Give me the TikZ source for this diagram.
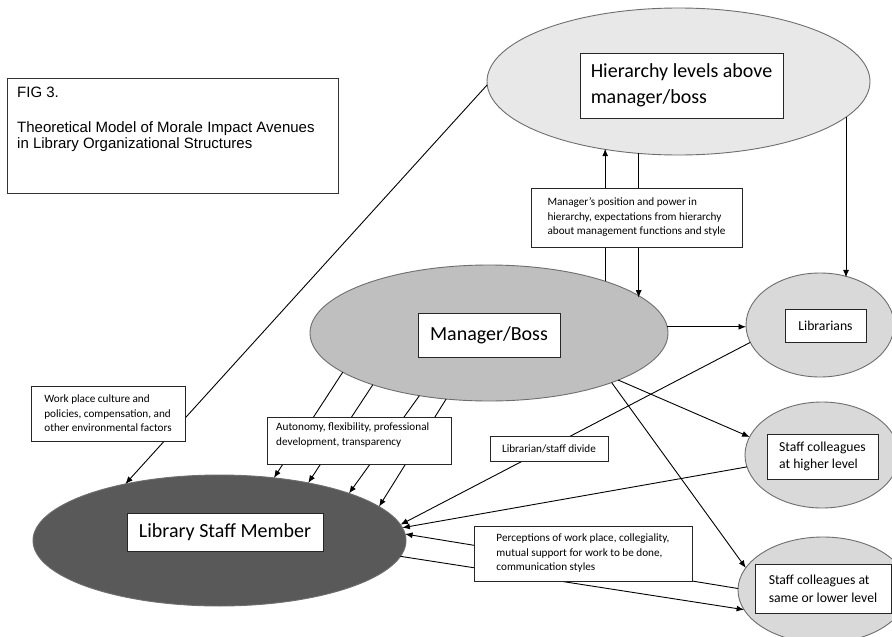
\documentclass[tikz,border=0pt]{standalone}
\usepackage{fontspec}
\setmainfont{Carlito}
\newfontfamily\arialf{Liberation Sans}
\usetikzlibrary{shapes.geometric,arrows.meta,calc}
\definecolor{hgray}{HTML}{E8E8E8}
\definecolor{sgray}{HTML}{D9D9D9}
\definecolor{mgray}{HTML}{BFBFBF}
\definecolor{bgray}{HTML}{595959}
\definecolor{ellborder}{HTML}{6E6E6E}
\begin{document}
\begin{tikzpicture}[x=1pt,y=-1pt,
  ell/.style={ellipse, draw=ellborder, line width=0.9pt, inner sep=0pt, outer sep=0pt},
  tbox/.style={draw=black!85, fill=white, line width=0.9pt, inner sep=0pt, outer sep=0pt, align=left},
  bigtxt/.style={font=\fontsize{20}{26}\selectfont},
  midtxt/.style={font=\fontsize{13.7}{17.8}\selectfont},
  smalltxt/.style={font=\fontsize{11.2}{14.5}\selectfont},
  arr/.style={draw=black, line width=0.9pt, -{Latex[length=7.5pt,width=6pt]}},
  ln/.style={draw=black, line width=0.9pt}]
\useasboundingbox (0,0) rectangle (892,637);
\fill[white] (0,0) rectangle (892,637);

% title box
\node[draw=black!80, line width=0.9pt, minimum width=331, minimum height=115, anchor=north west, inner sep=0pt] (fig) at (7,78) {};
\node[anchor=north west, inner sep=0pt, align=left, font=\arialf\fontsize{15}{16.5}\selectfont] (figtxt) at (17,87)
  {FIG 3.\\[18pt]Theoretical Model of Morale Impact Avenues\\in Library Organizational Structures};

% ellipses
\node[ell, fill=hgray, minimum width=383, minimum height=147] (H) at (678.5,81.5) {};
\node[ell, fill=mgray, minimum width=358, minimum height=136] (M) at (489,333) {};
\node[ell, fill=sgray, minimum width=148, minimum height=104] (L) at (820,325) {};
\node[ell, fill=sgray, minimum width=154, minimum height=106] (S1) at (822,455) {};
\node[ell, fill=sgray, minimum width=170, minimum height=106] (S2) at (823,590) {};
\node[ell, fill=bgray, minimum width=373, minimum height=131] (B) at (219.5,540.5) {};

% texts inside ellipses
\node[tbox, bigtxt, minimum width=203, minimum height=65] (Ht) at (681.5,85.5) {Hierarchy levels above\\manager/boss};
\node[tbox, bigtxt, minimum width=142, minimum height=44] (Mt) at (489,335) {Manager/Boss};
\node[tbox, bigtxt, minimum width=196, minimum height=38] (Bt) at (225,532) {Library Staff Member};
\node[tbox, midtxt, minimum width=81, minimum height=33] (Lt) at (825.5,325.5) {Librarians};
\node[tbox, midtxt, minimum width=111, minimum height=45] (S1t) at (822.5,456.5) {Staff colleagues\\at higher level};
\node[tbox, midtxt, minimum width=136, minimum height=49] (S2t) at (823,588.5) {Staff colleagues at\\same or lower level};

% connectors
\draw[arr] (H.181.05) -- (B.149.9);
\draw[arr] (M.24.7) -- (M.24.7 |- H.221.8);
\draw[arr] (H.241.9) -- (H.241.9 |- M.13.6);
\draw[arr] (H.348.9) -- (H.348.9 |- L.58.8);
\draw[arr] (M.2.25) -- (M.2.25 -| L.west);
\draw[arr] (M.340.6) -- (S1.166.5);
\draw[arr] (M.338.1) -- (S2.164.3);
\draw[arr] (L.194.6) -- (B.5.65);
\draw[arr] (S1.189.1) -- (B.4.06);
\draw[arr] (S2.179.3) -- (B.2.48);
\draw[arr] (B.355.94) -- (S2.194.7);
\draw[arr] (M.195.3) -- (B.49.05);
\draw[arr] (M.204.8) -- (B.33.1);
\draw[arr] (M.222.1) -- (B.20.2);
\draw[arr] (M.237.1) -- (B.12.34);

% label boxes
\node[tbox, smalltxt, minimum width=154, minimum height=55] (wp) at (108,413.5)
  {Work place culture and\\policies, compensation, and\\other environmental factors};
\node[tbox, minimum width=184, minimum height=47, anchor=north west] (au) at (267,417) {};
\node[smalltxt, anchor=north west, inner sep=0pt, align=left] (aut) at ($(au.north west)+(9,6)$)
  {Autonomy, flexibility, professional\\development, transparency};
\node[tbox, smalltxt, minimum width=211, minimum height=59] (mp) at (636.5,217.5)
  {Manager's position and power in\\hierarchy, expectations from hierarchy\\about management functions and style};
\node[tbox, smalltxt, minimum width=118, minimum height=25] (ld) at (549,448.5) {Librarian/staff divide};
\node[tbox, smalltxt, minimum width=218, minimum height=55] (pc) at (583,553.5)
  {Perceptions of work place, collegiality,\\mutual support for work to be done,\\communication styles};
\end{tikzpicture}
\end{document}
